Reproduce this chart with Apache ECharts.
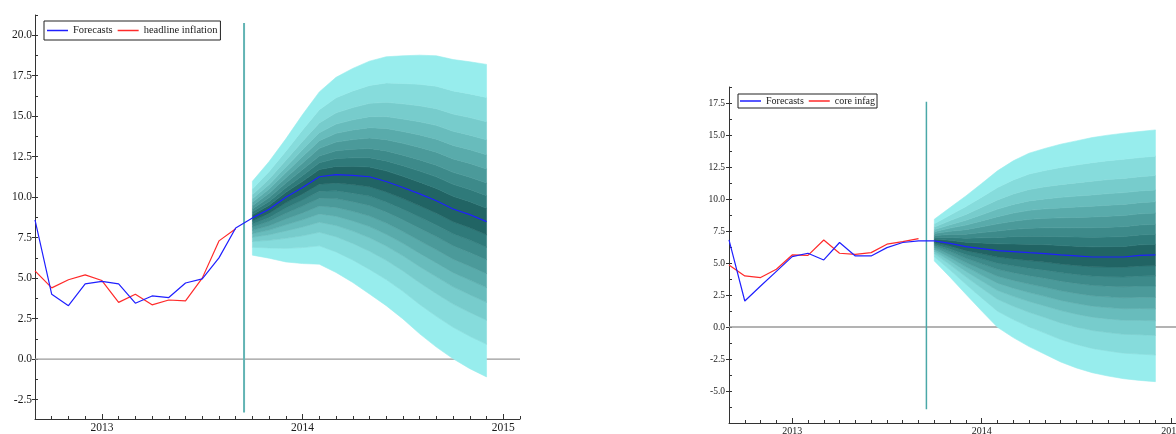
<!DOCTYPE html>
<html><head><meta charset="utf-8">
<script src="https://cdn.jsdelivr.net/npm/echarts@6/dist/echarts.min.js"></script>
<style>html,body{margin:0;padding:0;background:#fff}#c{width:1176px;height:434px}</style>
</head><body><div id="c"></div>
<script>
// x positions are months counted from Jan 2013 (0 = Jan 2013)
const histMonths = [-4,-3,-2,-1,0,1,2,3,4,5,6,7,8];
const fcMonths = [9,10,11,12,13,14,15,16,17,18,19,20,21,22,23];
const allMonths = [-4,-3,-2,-1,0,1,2,3,4,5,6,7,8,9,10,11,12,13,14,15,16,17,18,19,20,21,22,23];
const monthTicks = [-4,-3,-2,-1,0,1,2,3,4,5,6,7,8,9,10,11,12,13,14,15,16,17,18,19,20,21,22,23,24,25];
const yearTicks = [0,12,24];
const yearLabels = ['2013','2014','2015'];
const forecastStart = 8.5;

// left chart: headline inflation
const leftForecasts = [8.6,4.0,3.3,4.65,4.8,4.65,3.45,3.9,3.8,4.7,4.95,6.25,8.1,
  8.72,9.25,9.99,10.6,11.26,11.39,11.34,11.26,10.97,10.6,10.2,9.78,9.27,8.92,8.49];
const leftHeadline = [5.45,4.4,4.9,5.2,4.85,3.5,4.0,3.35,3.65,3.6,5.0,7.3,8.05];
const leftUpper = [10.98,12.2,13.6,15.1,16.5,17.4,17.95,18.4,18.67,18.73,18.77,18.73,18.5,18.36,18.2];
const leftLower = [6.42,6.23,6.0,5.9,5.86,5.35,4.73,4.02,3.3,2.48,1.56,0.74,0.02,-0.59,-1.1];
const leftYMajor = [-2.5,0,2.5,5,7.5,10,12.5,15,17.5,20];
const leftYMinor = [-2.5,-1.25,0,1.25,2.5,3.75,5,6.25,7.5,8.75,10,11.25,12.5,13.75,15,16.25,17.5,18.75,20,21.25];

// right chart: core inflation
const rightForecasts = [6.8,2.03,3.2,4.35,5.5,5.76,5.24,6.6,5.55,5.55,6.2,6.6,6.73,
  6.73,6.54,6.28,6.13,5.97,5.89,5.81,5.74,5.63,5.55,5.47,5.47,5.47,5.6,5.63];
const rightCore = [4.85,3.99,3.86,4.51,5.63,5.6,6.8,5.76,5.68,5.81,6.47,6.67,6.91];
const rightUpper = [8.42,9.33,10.24,11.21,12.2,12.98,13.58,13.95,14.28,14.54,14.8,14.99,15.14,15.27,15.4];
const rightLower = [5.16,3.89,2.56,1.25,-0.02,-0.83,-1.53,-2.13,-2.73,-3.2,-3.57,-3.83,-4.04,-4.17,-4.27];
const rightYMajor = [-5,-2.5,0,2.5,5,7.5,10,12.5,15,17.5];
const rightYMinor = [-7.5,-6.25,-5,-3.75,-2.5,-1.25,0,1.25,2.5,3.75,5,6.25,7.5,8.75,10,11.25,12.5,13.75,15,16.25,17.5,18.75];

// fan bands: boundary positions as share of distance from median to outer edge (outer first)
const bandFractions = [1.0,0.79,0.635,0.52,0.425,0.335,0.245,0.165,0.085];
const bandColors = ['#97eded','#86dcdc','#77cccc','#68bcbc','#59abab','#4b9a9a','#3d8a8a','#2f7a7a','#216464'];

const FONT = 'Liberation Serif';
const TXT = '#1a1a1a';
const AX = '#333';

function zip(xs, ys){ return ys.map((v,i)=>[xs[i], v]); }

function xAxes(gi, fs){
  return [
    {type:'value', gridIndex:gi, min:-4, max:25,
      axisLine:{show:true,onZero:false,lineStyle:{color:AX,width:1}},
      axisTick:{show:true,inside:true,length:3,customValues:monthTicks,lineStyle:{color:AX}},
      axisLabel:{show:false}, splitLine:{show:false}},
    {type:'value', gridIndex:gi, min:-4, max:25, position:'bottom',
      axisLine:{show:false,onZero:false},
      axisTick:{show:true,inside:true,length:5,customValues:yearTicks,lineStyle:{color:AX}},
      axisLabel:{show:true,customValues:yearTicks,formatter:v=>yearLabels[yearTicks.indexOf(v)],
        fontFamily:FONT,fontSize:fs,color:TXT,margin:3},
      splitLine:{show:false}}
  ];
}
function yAxes(gi, min, max, major, minor, fs, margin){
  return [
    {type:'value', gridIndex:gi, min, max, position:'left',
      axisLine:{show:true,onZero:false,lineStyle:{color:AX,width:1}},
      axisTick:{show:true,inside:false,length:3,customValues:major,lineStyle:{color:AX}},
      axisLabel:{show:true,customValues:major,formatter:v=>v.toFixed(1),fontFamily:FONT,fontSize:fs,color:TXT,margin},
      splitLine:{show:false}},
    {type:'value', gridIndex:gi, min, max, position:'left',
      axisLine:{show:false,onZero:false},
      axisTick:{show:true,inside:true,length:3,customValues:minor,lineStyle:{color:AX}},
      axisLabel:{show:false}, splitLine:{show:false}}
  ];
}

function fanSeries(xi, yi, median, upper, lower){
  const bounds = [];
  bandFractions.forEach(f=>bounds.push(median.map((c,i)=>c - f*(c-lower[i]))));
  bandFractions.slice().reverse().forEach(f=>bounds.push(median.map((c,i)=>c + f*(upper[i]-c))));
  const nb = bounds.length - 1;
  const data = [];
  for (let j=0;j<nb;j++) data.push([fcMonths[0], median[0]]);
  return {
    type:'custom', xAxisIndex:xi, yAxisIndex:yi, z:2, silent:true,
    data,
    renderItem:(params, api)=>{
      const j = params.dataIndex;
      const lo = bounds[j], hi = bounds[j+1];
      const pts = [];
      for (let i=0;i<fcMonths.length;i++) pts.push(api.coord([fcMonths[i], hi[i]]));
      for (let i=fcMonths.length-1;i>=0;i--) pts.push(api.coord([fcMonths[i], lo[i]]));
      const col = bandColors[Math.min(j, nb-1-j)];
      return {type:'polygon', shape:{points:pts}, style:{fill:col, stroke:col, lineWidth:0.6}};
    }
  };
}

function lineS(name, xi, yi, data, color, z, width){
  return {type:'line', name, xAxisIndex:xi, yAxisIndex:yi, data, symbol:'none',
    lineStyle:{color, width:width||1.2}, itemStyle:{color}, z, silent:true};
}

const fcLeft = leftForecasts.slice(histMonths.length);
const fcRight = rightForecasts.slice(histMonths.length);

const option = {
  animation:false,
  backgroundColor:'#fff',
  grid:[
    {left:35, top:15, width:485, height:404, outerBoundsMode:'none', containLabel:false},
    {left:729, top:87, width:458, height:336, outerBoundsMode:'none', containLabel:false}
  ],
  xAxis:[...xAxes(0,11.5), ...xAxes(1,10)],
  yAxis:[...yAxes(0,-3.7,21.25,leftYMajor,leftYMinor,11.5,3), ...yAxes(1,-7.5,18.75,rightYMajor,rightYMinor,9.5,4)],
  legend:[
    {left:44, top:21, orient:'horizontal', icon:'rect', itemWidth:21, itemHeight:1.5, itemGap:5,
      padding:[4,3,4,3], borderColor:'#222', borderWidth:1, backgroundColor:'#fff',
      textStyle:{fontFamily:FONT,fontSize:10.5,color:TXT},
      data:['Forecasts','headline inflation'], selectedMode:false},
    {left:738, top:94, orient:'horizontal', icon:'rect', itemWidth:21, itemHeight:1.5, itemGap:5,
      padding:[2,2,2,2], borderColor:'#222', borderWidth:1, backgroundColor:'#fff',
      textStyle:{fontFamily:FONT,fontSize:10,color:TXT},
      data:['Forecasts','core infag'], selectedMode:false}
  ],
  series:[
    // left
    lineS('zero0',0,0,[[-4,0],[25,0]],'#9a9a9a',1,1.3),
    fanSeries(0,0,fcLeft,leftUpper,leftLower),
    lineS('vline0',0,0,[[forecastStart,-3.3],[forecastStart,20.75]],'#62b4b4',3,2),
    lineS('headline inflation',0,0,zip(histMonths,leftHeadline),'#ff2a2a',4,1.2),
    lineS('Forecasts',0,0,zip(allMonths,leftForecasts),'#1f1fff',5,1.2),
    // right
    lineS('zero1',2,2,[[-4,0],[25,0]],'#9a9a9a',1,1.3),
    fanSeries(2,2,fcRight,rightUpper,rightLower),
    lineS('vline1',2,2,[[forecastStart,-6.43],[forecastStart,17.6]],'#4aa8a8',3,1.5),
    lineS('core infag',2,2,zip(histMonths,rightCore),'#ff2a2a',4,1.2),
    lineS('Forecasts',2,2,zip(allMonths,rightForecasts),'#1f1fff',5,1.2)
  ]
};
const chart = echarts.init(document.getElementById('c'), null, {renderer:'canvas'});
chart.setOption(option);
</script>
</body></html>
